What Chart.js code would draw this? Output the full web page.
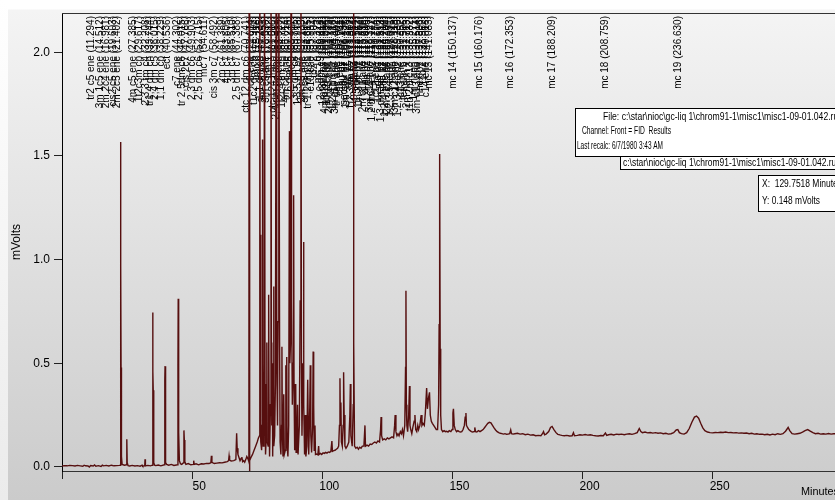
<!DOCTYPE html>
<html>
<head>
<meta charset="utf-8">
<title>FID chromatogram</title>
<script src="https://cdn.jsdelivr.net/npm/chart.js@4.4.1/dist/chart.umd.min.js"></script>
<style>
    html, body { margin: 0; padding: 0; }
    body {
        width: 835px; height: 500px; overflow: hidden; position: relative;
        background: linear-gradient(to bottom, #fff 0, #fff 9px, #f4f4f4 10px, #cbcbcb 100%);
    }
    #strip { position: absolute; left: 0; top: 0; width: 8px; height: 500px;
        background: linear-gradient(to bottom, #fff, #ebebeb); }
    canvas { position: absolute; left: 0; top: 0; }
</style>
</head>
<body>
<div id="strip"></div>
<canvas id="chart" width="835" height="500"></canvas>
<script>
// trace samples [minutes, mVolts], split by region
const traceEarly = [
    [0, 0.004], [1, 0.006], [2, 0.005], [3, 0.007], [4, 0.006], [5, 0.004], [6, 0.007], [7, 0.005],
    [8, 0.003], [8.5, 0.008], [9, 0.005], [10, 0.004], [10.5, -0.001], [11, 0.006], [12, 0.004],
    [12.5, 0.009], [13, 0.003], [14, 0.006], [15, 0.002], [15.5, 0.008], [16, 0.005], [17, 0.007],
    [18, 0.004], [19, 0.008], [20, 0.005], [21, 0.006], [22, 0.007], [22.35, 0.008], [22.5, 1.567],
    [22.6, 0.98], [22.7, 0.48], [22.85, 0.05], [23.1, 0.012], [24, 0.008], [24.75, 0.01], [24.9, 0.133],
    [25.05, 0.02], [25.4, 0.006], [26, 0.004], [27, 0.007], [28, 0.004], [29, 0.006], [30, 0.003],
    [30.8, 0.008], [31, 0.004], [31.8, 0.006], [31.9, 0.037], [32.05, 0.005], [33, 0.007], [34, 0.005],
    [34.7, 0.008], [34.85, 0.745], [34.95, 0.46], [35.05, 0.37], [35.25, 0.02], [35.6, 0.008], [36, 0.006],
    [37, 0.009], [38, 0.005], [39.3, 0.01], [39.5, 0.42], [39.6, 0.486], [39.7, 0.245], [39.9, 0.02],
    [40.2, 0.012], [41, 0.008], [42, 0.012], [43, 0.007], [44.4, 0.01], [44.55, 0.49], [44.65, 0.811],
    [44.75, 0.41], [44.9, 0.167], [45.1, 0.03], [45.5, 0.015], [46, 0.012], [46.7, 0.02], [46.85, 0.176],
    [47.0, 0.13], [47.2, 0.025], [47.6, 0.012], [48.5, 0.016], [49.5, 0.01], [50.4, 0.012], [50.6, 0.03],
    [50.8, 0.012], [51.5, 0.015], [52.5, 0.01], [53.5, 0.015], [54.5, 0.014], [55.5, 0.017], [56.5, 0.016],
    [57.2, 0.02], [57.4, 0.053], [57.6, 0.022], [58.5, 0.016], [59.5, 0.018], [60.5, 0.02], [61.5, 0.019],
    [62.5, 0.022], [63.5, 0.025], [64, 0.03], [64.2, 0.053], [64.4, 0.033], [65, 0.028], [66, 0.03],
    [66.8, 0.035], [67.1, 0.162], [67.3, 0.09], [67.6, 0.06], [68, 0.045], [68.4, 0.03], [68.8, 0.04],
    [69.1, 0.047], [69.4, 0.025], [69.8, 0.03], [70.2, 0.022], [70.6, 0.035], [71.0, 0.05], [71.4, 0.04],
    [71.7, 0.03]
];
const traceDense = [
    [71.8, 0.025], [71.9, 2.6], [72.0, -0.02], [72.2, 0.03], [72.6, 0.045], [73.2, 0.06], [73.8, 0.08],
    [74.4, 0.1], [75.0, 0.12], [75.5, 0.14], [75.9, 0.15], [76.0, 2.6], [76.15, 0.3], [76.3, 1.12],
    [76.45, 0.12], [76.7, 0.08], [76.9, 0.2], [77.0, 1.58], [77.1, 0.5], [77.3, 0.1], [77.6, 0.2],
    [77.8, 2.6], [78.0, 0.4], [78.2, 0.06], [78.5, 0.15], [78.7, 0.6], [78.85, 0.12], [79.2, 0.1],
    [79.4, 0.83], [79.55, 0.3], [79.75, 0.05], [80.1, 0.3], [80.3, 2.6], [80.45, 0.6], [80.6, 0.2],
    [80.8, 0.5], [80.95, 0.05], [81.15, 0.3], [81.3, 0.87], [81.45, 0.1], [81.7, 0.15], [82.0, 0.4],
    [82.3, 2.6], [82.5, 0.5], [82.8, 0.2], [83.0, 0.7], [83.3, 2.6], [83.6, 0.6], [83.8, 0.12],
    [84.1, 0.06], [84.35, 0.2], [84.5, 0.58], [84.65, 0.2], [84.9, 0.05], [85.2, 0.35], [85.4, 0.06],
    [85.8, 0.08], [86.0, 0.49], [86.15, 0.2], [86.35, 0.53], [86.5, 0.1], [86.8, 0.05], [87.1, 0.2],
    [87.4, 1.62], [87.55, 0.5], [87.8, 0.6], [88.0, 2.6], [88.2, 0.8], [88.5, 0.3], [88.8, 0.5],
    [89.0, 1.31], [89.15, 0.4], [89.4, 0.08], [89.8, 0.4], [89.95, 0.07], [90.2, 0.1], [90.5, 0.3],
    [90.7, 0.06], [91.2, 0.2], [91.5, 0.8], [91.8, 2.6], [92.0, 0.5], [92.2, 0.15], [92.6, 0.5],
    [92.8, 1.085], [92.95, 0.3], [93.2, 0.06], [93.5, 0.25], [93.7, 0.05], [94.1, 0.1], [94.4, 0.42],
    [94.6, 0.22], [94.8, 0.06], [95.2, 0.29], [95.4, 0.49], [95.6, 0.15], [95.9, 0.07], [96.3, 0.2],
    [96.5, 0.556], [96.7, 0.3], [96.9, 0.08], [97.2, 0.2], [97.4, 0.06], [97.8, 0.062], [98.3, 0.058],
    [98.6, 0.10], [98.8, 0.06], [99.3, 0.065], [99.8, 0.06]
];
const traceMid = [
    [100.3, 0.068], [100.8, 0.065], [101.3, 0.07], [101.8, 0.066], [102.3, 0.072], [102.8, 0.07],
    [103.3, 0.075], [103.7, 0.125], [103.9, 0.075], [104.4, 0.078], [104.9, 0.08], [105.4, 0.085],
    [105.9, 0.09], [106.3, 0.1], [106.6, 0.2], [106.8, 0.427], [106.95, 0.2], [107.15, 0.31],
    [107.35, 0.12], [107.7, 0.1], [108.0, 0.2], [108.2, 0.457], [108.4, 0.25], [108.7, 0.1],
    [109.1, 0.09], [109.6, 0.1], [110.2, 0.12], [110.6, 0.25], [110.8, 0.40], [111.0, 0.15],
    [111.5, 0.1], [111.9, 0.3], [112.0, 2.6], [112.15, 0.6], [112.4, 0.1], [112.9, 0.09], [113.4, 0.095],
    [113.9, 0.085], [114.4, 0.095], [114.9, 0.09], [115.4, 0.1], [116.0, 0.1], [116.4, 0.2], [116.6, 0.1],
    [117.2, 0.105], [117.8, 0.1], [118.4, 0.11], [119.0, 0.108], [119.6, 0.115], [120.2, 0.12],
    [120.8, 0.115], [121.4, 0.125], [122.0, 0.12], [122.4, 0.18], [122.6, 0.24], [122.8, 0.15],
    [123.2, 0.13], [123.8, 0.135], [124.4, 0.13], [125.0, 0.14], [125.6, 0.135], [126.2, 0.14],
    [126.8, 0.145], [127.4, 0.14], [127.8, 0.2], [128.0, 0.25], [128.3, 0.17], [128.7, 0.15],
    [129.1, 0.16], [129.5, 0.15], [130.0, 0.17], [130.4, 0.16], [130.8, 0.18], [131.2, 0.15],
    [131.7, 0.2], [132.0, 0.48], [132.15, 0.85], [132.3, 0.3], [132.5, 0.2], [132.8, 0.17],
    [133.2, 0.25], [133.5, 0.39], [133.7, 0.2], [134.0, 0.18], [134.4, 0.16], [134.8, 0.19],
    [135.3, 0.22], [135.6, 0.25], [135.9, 0.18], [136.3, 0.17], [136.7, 0.2], [137.0, 0.18],
    [137.5, 0.2], [138.0, 0.25], [138.3, 0.2], [138.7, 0.21], [139.2, 0.2], [139.6, 0.26],
    [140.1, 0.38], [140.4, 0.28], [140.8, 0.33], [141.2, 0.36], [141.5, 0.25], [141.9, 0.22],
    [142.3, 0.21], [142.8, 0.2], [143.3, 0.19], [143.8, 0.18], [144.3, 0.18], [144.7, 0.3],
    [144.9, 0.686], [145.1, 1.51], [145.3, 0.57], [145.5, 0.25], [145.8, 0.18], [146.3, 0.17],
    [146.8, 0.175], [147.3, 0.17], [147.8, 0.172], [148.3, 0.168], [148.8, 0.175], [149.4, 0.17],
    [149.9, 0.18], [150.2, 0.26], [150.4, 0.28], [150.7, 0.2], [151.1, 0.18], [151.6, 0.17],
    [152.1, 0.175], [152.6, 0.17], [153.1, 0.168], [153.6, 0.17], [154.1, 0.18], [154.6, 0.2],
    [154.9, 0.24], [155.2, 0.26], [155.4, 0.2], [155.8, 0.19], [156.3, 0.18], [156.8, 0.175],
    [157.3, 0.17], [157.8, 0.168], [158.3, 0.17], [158.6, 0.19], [158.9, 0.17], [159.4, 0.168],
    [160.0, 0.175]
];
const traceLate = [
    [160.6, 0.17], [161.2, 0.175], [161.8, 0.18], [162.4, 0.19], [163.0, 0.2], [163.6, 0.21],
    [164.2, 0.215], [164.8, 0.212], [165.4, 0.2], [166.0, 0.188], [166.6, 0.178], [167.2, 0.17],
    [167.8, 0.165], [168.4, 0.162], [169.0, 0.16], [169.6, 0.158], [170.2, 0.16], [170.8, 0.157],
    [171.4, 0.158], [172.0, 0.16], [172.4, 0.178], [172.7, 0.16], [173.3, 0.158], [174, 0.16],
    [175, 0.162], [176, 0.158], [177, 0.16], [178, 0.155], [179, 0.158], [180, 0.153], [181, 0.155],
    [182, 0.15], [183, 0.152], [184, 0.15], [184.6, 0.16], [185.0, 0.17], [185.4, 0.155], [186, 0.158],
    [187, 0.17], [187.7, 0.19], [188.3, 0.195], [189, 0.18], [189.8, 0.165], [190.5, 0.157],
    [191.3, 0.154], [192, 0.152], [193, 0.15], [194, 0.152], [195, 0.149], [196, 0.15], [196.5, 0.165],
    [196.9, 0.15], [198, 0.152], [199, 0.155], [200, 0.153], [201, 0.156], [202, 0.153], [203, 0.155],
    [204, 0.152], [205, 0.15], [206, 0.149], [207, 0.151], [208, 0.15], [208.8, 0.163], [209.3, 0.152],
    [210, 0.155], [211, 0.157], [212, 0.154], [213, 0.158], [214, 0.156], [215, 0.158], [216, 0.155],
    [217, 0.158], [218, 0.16], [219, 0.157], [220, 0.16], [221, 0.165], [221.8, 0.185], [222.4, 0.17],
    [223, 0.165], [224, 0.168], [225, 0.164], [226, 0.166], [227, 0.163], [228, 0.165], [229, 0.162],
    [230, 0.164], [231, 0.16], [232, 0.162], [233, 0.158], [234, 0.16], [235, 0.165], [236, 0.178],
    [236.6, 0.18], [237.2, 0.165], [238, 0.16], [239, 0.158], [240, 0.165], [241, 0.185], [242, 0.215],
    [243, 0.24], [243.8, 0.245], [244.6, 0.235], [245.4, 0.21], [246.2, 0.188], [247, 0.175],
    [248, 0.168], [249, 0.165], [250, 0.164], [251, 0.166], [252, 0.165], [253, 0.167], [254, 0.166],
    [255, 0.168], [256, 0.165], [257, 0.166], [258, 0.164], [259, 0.165], [260, 0.163], [261, 0.164],
    [262, 0.162], [263, 0.163], [264, 0.16], [265, 0.162], [266, 0.158], [267, 0.16], [268, 0.157],
    [269, 0.158], [270, 0.155], [271, 0.157], [272, 0.154], [273, 0.158], [274, 0.155], [275, 0.16],
    [276, 0.157], [277, 0.16], [278, 0.172], [279, 0.19], [279.6, 0.175], [280.5, 0.16], [281.5, 0.158],
    [282.5, 0.16], [283.5, 0.162], [284.5, 0.168], [285.5, 0.175], [286.5, 0.18], [287.5, 0.172],
    [288.5, 0.165], [289.5, 0.16], [290.5, 0.162], [291.5, 0.158], [292.5, 0.16], [293.5, 0.158],
    [294.5, 0.161], [295.5, 0.158], [296.5, 0.16], [297.5, 0.16]
];

// peak annotations along the top
const peakLabelNames = [
    'tr2 c5 ene', '3m 1c5 ene', '2m 2c4 ene', 'cis2 c5 ene', '2m 2c5 ene', '4m c5 ene', '1t2c3m cp',
    '2,3,3 tm c4', 'tr1,4 dm ch', '2,4 dm c5', '1,1 dm cp', 'ect', 'c7 ene', 'tr 2,5dm c6', 'cis 2c7',
    '2,3 dm c6', '2,5 dm c6', 'mc 7', 'cis 3m c7', '2m c7', '4m c7', '3m c7', '2,5 dm c7', 'ctc 12 dm c6',
    'c8 ene', 't1c2 dm ch', 'mc 8', '1,1 dm ch', '2m c8 ane', '3m c8 ane', 'tbp 1', 'ctc 124 tmcp',
    '2,4 dm c7 ane', 'c9 ene', '1t2c4 tm ch', '4m c8 ane', '2,6 dm c8', 'mc 9', '3,5 dm c8', '1,3,5 tm bz',
    '2m c9 ane', '3m c9 ane', 'tr 1,2 dm ch', 'c10 ene', 'tbz 2', 'mc 10', '2,6 dm c9', '1m 3et bz',
    '4m c10 ane', '1m 2et bz', '2m c10 ane', '1,2,4 tm bz', '3m c10 ane', 'tr dec ane', 'c11 ene',
    'i-bu bz', 'sec-bu bz', '1m 4ipr bz', 'mc 11', '1,2,3 tm bz', '1m 3pr bz', 'indane', '1,3 de bz',
    '1m 3 pr bz', '2m c11 ane', 'n-bu bz', '1,4 de bz', '3m c11 ane', '1,2 dm 4et bz', 'c12 ene',
    '1,2 de bz', '1,3 dm 5et bz', 'mc 12', '1,2,4,5 te bz', '2m c12 ane', '1,2,3,5 te bz', 'naph',
    '3m c12 ane', '1,2,3,4 te bz', 'c13 ene', 'tetralin b', '2m naph x', 't1b 2m c13', '1m naph',
    '3m c13 ane', 'nhex bz', 't1b 2', 'c14 ene', 'mc 13', 'mc 14', 'mc 15', 'mc 16', 'mc 17', 'mc 18',
    'mc 19'
];
const peakLabelTimes = [
    11.294, 14.512, 16.981, 19.603, 21.402, 27.385, 29.617, 32.208, 33.744, 36.015, 38.229, 40.536,
    44.302, 46.015, 47.766, 49.903, 52.715, 54.611, 58.492, 61.389, 63.605, 65.510, 67.388, 70.741,
    72.614, 73.902, 75.118, 76.235, 77.451, 78.530, 79.812, 81.006, 82.317, 83.529, 84.722, 86.014,
    87.236, 88.417, 89.705, 90.918, 92.133, 93.402, 94.615, 95.891, 97.104, 98.322, 99.618, 100.412,
    101.204, 102.035, 102.735, 104.116, 104.862, 105.602, 107.011, 107.744, 108.437, 109.125, 109.825,
    111.302, 112.014, 112.714, 113.522, 114.253, 115.896, 116.618, 117.405, 118.327, 119.122, 120.774,
    121.608, 122.513, 123.414, 124.206, 125.104, 126.031, 127.025, 128.118, 129.230, 130.352, 131.506,
    132.713, 133.982, 135.271, 136.514, 137.806, 138.962, 140.018, 141.083, 150.137, 160.176, 172.353,
    188.209, 208.759, 236.630
];

const xTickValues = [0, 50, 100, 150, 200, 250];
const yTickValues = [0, 0.5, 1.0, 1.5, 2.0];

const fileName = 'c:\\star\\nioc\\gc-liq 1\\chrom91-1\\misc1\\misc1-09-01.042.run';
const FONT = '"Liberation Sans", Arial, sans-serif';

// draw text squeezed to a given width (the capture is horizontally compressed)
function squeezed(ctx, text, x, y, w) {
    const m = ctx.measureText(text).width;
    ctx.save();
    ctx.translate(x, y);
    ctx.scale(w / m, 1);
    ctx.fillText(text, 0, 0);
    ctx.restore();
}

function box(ctx, l, t, r, b) {
    ctx.fillStyle = '#fff';
    ctx.fillRect(l, t, r - l, b - t);
    ctx.strokeStyle = '#000';
    ctx.lineWidth = 1;
    ctx.strokeRect(l + 0.5, t + 0.5, r - l, b - t);
}

const overlay = {
    id: 'overlay',
    beforeDatasetsDraw(chart) {
        const {ctx, chartArea, scales: {x}} = chart;
        ctx.save();
        ctx.strokeStyle = '#333';
        ctx.lineWidth = 1;
        ctx.beginPath();
        ctx.moveTo(chartArea.left, chartArea.top + 0.5);
        ctx.lineTo(chartArea.right, chartArea.top + 0.5);
        ctx.stroke();

        ctx.fillStyle = '#000';
        ctx.font = '10px ' + FONT;
        ctx.textAlign = 'right';
        ctx.textBaseline = 'middle';
        peakLabelTimes.forEach((t, i) => {
            ctx.save();
            ctx.translate(x.getPixelForValue(t), chartArea.top + 3);
            ctx.rotate(-Math.PI / 2);
            ctx.fillText(peakLabelNames[i] + ' (' + t.toFixed(3) + ')', 0, 0);
            ctx.restore();
        });
        ctx.restore();
    },
    afterDraw(chart) {
        const ctx = chart.ctx;
        ctx.save();
        ctx.font = '11px ' + FONT;
        ctx.textBaseline = 'middle';
        ctx.textAlign = 'left';

        box(ctx, 575, 108, 850, 156);
        box(ctx, 620, 156, 850, 169);
        box(ctx, 758, 175, 850, 211);

        ctx.fillStyle = '#000';
        squeezed(ctx, 'File: ' + fileName, 603, 117, 240);
        squeezed(ctx, 'Channel: Front = FID  Results', 582, 131, 89);
        squeezed(ctx, 'Last recalc: 6/7/1980 3:43 AM', 577, 146, 86);
        squeezed(ctx, fileName, 623, 163, 218);
        squeezed(ctx, 'X:  129.7518 Minutes', 762, 184, 80);
        squeezed(ctx, 'Y: 0.148 mVolts', 762, 201, 58);

        squeezed(ctx, 'Minutes', 801, 492, 38);
        ctx.restore();
    }
};

const traceData = [...traceEarly, ...traceDense, ...traceMid, ...traceLate].map(([t, v]) => ({x: t, y: v}));

new Chart(document.getElementById('chart'), {
    type: 'line',
    data: {
        datasets: [{
            data: traceData,
            borderColor: '#560f0f',
            borderWidth: 1.4,
            pointRadius: 0,
            tension: 0,
            fill: false
        }]
    },
    options: {
        responsive: false,
        animation: false,
        devicePixelRatio: 1,
        layout: { padding: { top: 13, left: 0, right: 0, bottom: 0 } },
        plugins: { legend: { display: false }, tooltip: { enabled: false } },
        scales: {
            x: {
                type: 'linear',
                min: 0,
                max: 297,
                afterFit: s => { s.height = 29; },
                afterBuildTicks: s => { s.ticks = xTickValues.map(v => ({value: v})); },
                ticks: {
                    callback: v => v === 0 ? '' : String(v),
                    color: '#000',
                    font: { family: FONT, size: 12 },
                    labelOffset: 7,
                    padding: 0,
                    maxRotation: 0,
                    autoSkip: false
                },
                grid: { drawOnChartArea: false, tickLength: 8, color: '#222' },
                border: { color: '#333', width: 1 }
            },
            y: {
                min: -0.02,
                max: 2.19,
                afterFit: s => { s.width = 62; },
                afterBuildTicks: s => { s.ticks = yTickValues.map(v => ({value: v})); },
                ticks: {
                    callback: v => v.toFixed(1),
                    color: '#000',
                    font: { family: FONT, size: 12 },
                    padding: 4
                },
                grid: { drawOnChartArea: false, tickLength: 8, color: '#222' },
                border: { color: '#000', width: 1 },
                title: {
                    display: true,
                    text: 'mVolts',
                    color: '#000',
                    font: { family: FONT, size: 12 },
                    padding: { top: 9, bottom: 0 }
                }
            }
        }
    },
    plugins: [overlay]
});
</script>
</body>
</html>
